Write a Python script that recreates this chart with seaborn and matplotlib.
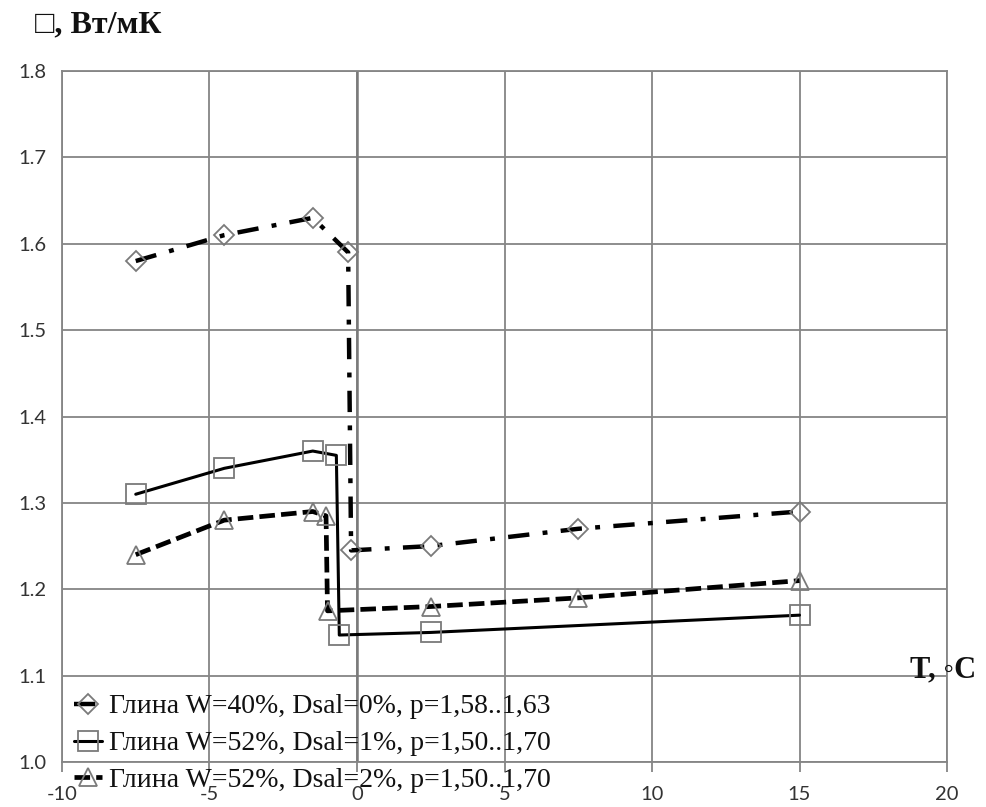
import numpy as np
import pandas as pd
import matplotlib
matplotlib.use("Agg")
import matplotlib.pyplot as plt
import seaborn as sns

# ---- data ----
x_s1 = [-7.5, -4.5, -1.5, -0.3, -0.2, 2.5, 7.5, 15]
y_s1 = [1.58, 1.61, 1.63, 1.59, 1.245, 1.25, 1.27, 1.29]
x_s2 = [-7.5, -4.5, -1.5, -0.7, -0.6, 2.5, 15]
y_s2 = [1.31, 1.34, 1.36, 1.355, 1.147, 1.15, 1.17]
x_s3 = [-7.5, -4.5, -1.5, -1.05, -1.0, 2.5, 7.5, 15]
y_s3 = [1.24, 1.28, 1.29, 1.285, 1.175, 1.18, 1.19, 1.21]
labels = ["Глина W=40%, Dsal=0%, p=1,58..1,63",
          "Глина W=52%, Dsal=1%, p=1,50..1,70",
          "Глина W=52%, Dsal=2%, p=1,50..1,70"]
x_ticks = [-10, -5, 0, 5, 10, 15, 20]
y_ticks = [1.0, 1.1, 1.2, 1.3, 1.4, 1.5, 1.6, 1.7, 1.8]
y_title = "□, Вт/мК"
x_title = "T, ◦C"

sns.set_theme(style="white")
plt.rcParams["font.family"] = ["Lato", "DejaVu Sans"]

fig = plt.figure(figsize=(9.86, 8.07), dpi=100)
ax = fig.add_axes([62/986, 1-762/807, (947-62)/986, (762-71)/807])

serif = ["Liberation Serif", "DejaVu Serif", "DejaVu Sans"]
mec = "#7a7a7a"

sns.lineplot(x=x_s1, y=y_s1, sort=False, ax=ax, color="black", lw=3.2,
             linestyle=(0, (4.8, 3.0, 1.1, 3.0)), marker="D", markersize=10,
             markerfacecolor="none", markeredgecolor=mec, markeredgewidth=1.3,
             label=labels[0], zorder=4)
sns.lineplot(x=x_s2, y=y_s2, sort=False, ax=ax, color="black", lw=2.2,
             linestyle="-", marker="s", markersize=14,
             markerfacecolor="none", markeredgecolor=mec, markeredgewidth=1.3,
             label=labels[1], zorder=4)
sns.lineplot(x=x_s3, y=y_s3, sort=False, ax=ax, color="black", lw=3.4,
             linestyle=(0, (3.3, 1.3)), marker="^", markersize=13,
             markerfacecolor="none", markeredgecolor=mec, markeredgewidth=1.3,
             label=labels[2], zorder=4)

handles, labs = ax.get_legend_handles_labels()
if ax.get_legend() is not None:
    ax.get_legend().remove()

ax.set_xlim(-10, 20)
ax.set_ylim(1.0, 1.8)
ax.set_xticks(x_ticks)
ax.set_yticks(y_ticks)
ax.set_xticklabels([str(t) for t in x_ticks])
ax.set_yticklabels([f"{t:.1f}" for t in y_ticks])
ax.grid(True, color="#858585", lw=1.3)
ax.set_axisbelow(True)
for s in ax.spines.values():
    s.set_color("#858585")
    s.set_linewidth(1.3)
ax.axvline(0, color="#7a7a7a", lw=1.8, zorder=1)
ax.tick_params(axis="x", direction="out", length=7, width=1.3, color="#858585",
               pad=10, labelsize=14.5, labelcolor="#333333", bottom=True)
ax.tick_params(axis="y", length=0, pad=11, labelsize=14.5, labelcolor="#333333", left=True)
ax.set_xlabel("")
ax.set_ylabel("")

fig.text(35/986, 1-25/807, y_title, family=serif, weight="bold", fontsize=23,
         va="center", ha="left", color="#111111")
fig.text(910/986, 1-670/807, x_title, family=serif, weight="bold", fontsize=22,
         va="center", ha="left", color="#111111")

leg = fig.legend(handles, labs, loc="upper left",
                 bbox_to_anchor=(74/986, 1-694/807), frameon=False,
                 prop={"family": serif, "size": 20}, handlelength=1.0,
                 handletextpad=0.25, labelspacing=0.41, borderpad=0,
                 borderaxespad=0)
for t in leg.get_texts():
    t.set_color("#111111")

fig.savefig("out.png", dpi=100)
